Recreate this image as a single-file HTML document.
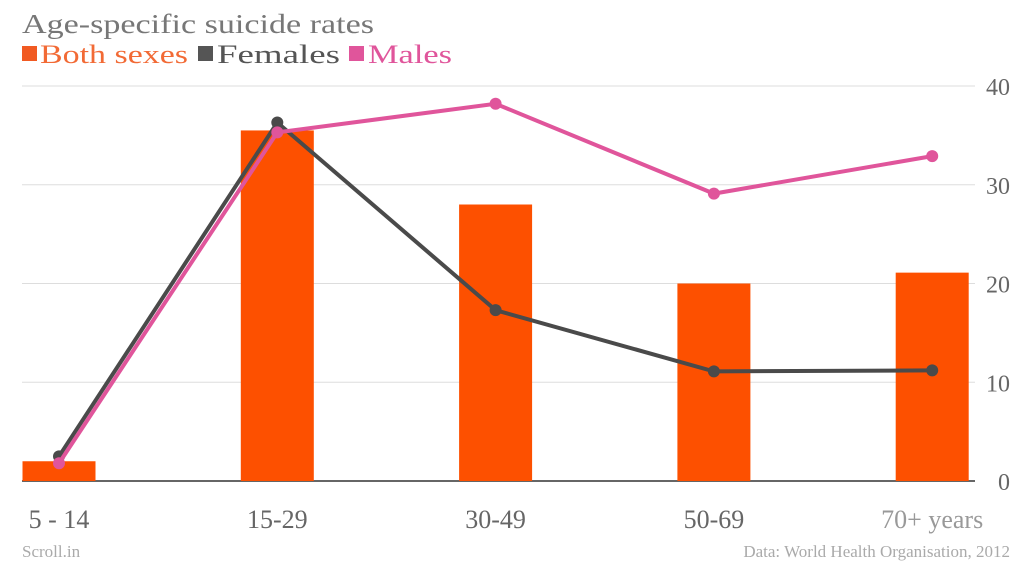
<!DOCTYPE html>
<html><head><meta charset="utf-8"><style>
body{margin:0;background:#fff;}
svg{display:block;font-family:"Liberation Serif","Noto Sans CJK SC",serif;}
</style></head><body>
<svg id="c" width="1024" height="574" viewBox="0 0 1024 574">
<text x="22" y="33" font-size="27" fill="#777" textLength="352" lengthAdjust="spacingAndGlyphs">Age-specific suicide rates</text>
<g>
<rect x="22" y="46" width="15" height="15" fill="#f15a22"/>
<text x="40" y="63" font-size="26" fill="#f26a35" textLength="148" lengthAdjust="spacingAndGlyphs">Both sexes</text>
<rect x="198" y="46" width="15" height="15" fill="#555"/>
<text x="217" y="63" font-size="26" fill="#555" textLength="123" lengthAdjust="spacingAndGlyphs">Females</text>
<rect x="349" y="46" width="15" height="15" fill="#e0559b"/>
<text x="368" y="63" font-size="26" fill="#e0559b" textLength="84" lengthAdjust="spacingAndGlyphs">Males</text>
</g>
<g id="grid"></g><g id="bars"></g><g id="lines"></g><g id="labels"></g>
<text x="22" y="557" font-size="17" fill="#aaa">Scroll.in</text>
<text x="1010" y="557" font-size="17" fill="#aaa" text-anchor="end">Data: World Health Organisation, 2012</text>
</svg>
<script>
const categories=["5 - 14","15-29","30-49","50-69","70+ years"];
const bothSexes=[2.0,35.5,28.0,20.0,21.1];
const females=[2.5,36.3,17.3,11.1,11.2];
const males=[1.8,35.3,38.2,29.1,32.9];
const yTicks=[0,10,20,30,40];
const NS="http://www.w3.org/2000/svg";
const y=v=>481-v*9.875;
const x=i=>59+i*218.3;
function mk(tag,attrs,parent){const e=document.createElementNS(NS,tag);for(const k in attrs)e.setAttribute(k,attrs[k]);document.getElementById(parent).appendChild(e);return e;}
yTicks.forEach(t=>{
 const l=mk('line',{x1:22,x2:975,y1:y(t),y2:y(t),stroke:t===0?'#666':'#ddd','stroke-width':t===0?2:1},'grid');
 
 
 const tx=mk('text',{x:1010,y:y(t)+9,'font-size':24,fill:'#666','text-anchor':'end'},'labels');
 tx.textContent=t;
 
 
});
categories.forEach((c,i)=>{
 const b=mk('rect',{x:x(i)-36.5,y:y(bothSexes[i]),width:73,height:y(0)-y(bothSexes[i]),fill:'#fd5000'},'bars');
 
 
 const tx=mk('text',{x:x(i),y:528,'font-size':26,fill:i===4?'#999':'#666','text-anchor':'middle'},'labels');
 tx.textContent=c;
 
 
});
[[females,'#4a4a4a','females'],[males,'#e0559b','males']].forEach(([d,col,n])=>{
 const p=mk('polyline',{points:d.map((v,i)=>x(i)+','+y(v)).join(' '),fill:'none',stroke:col,'stroke-width':4},'lines');
 
 
 d.forEach((v,i)=>{
  const c=mk('circle',{cx:x(i),cy:y(v),r:6,fill:col},'lines');
  
  
 });
});
</script>
</body></html>
